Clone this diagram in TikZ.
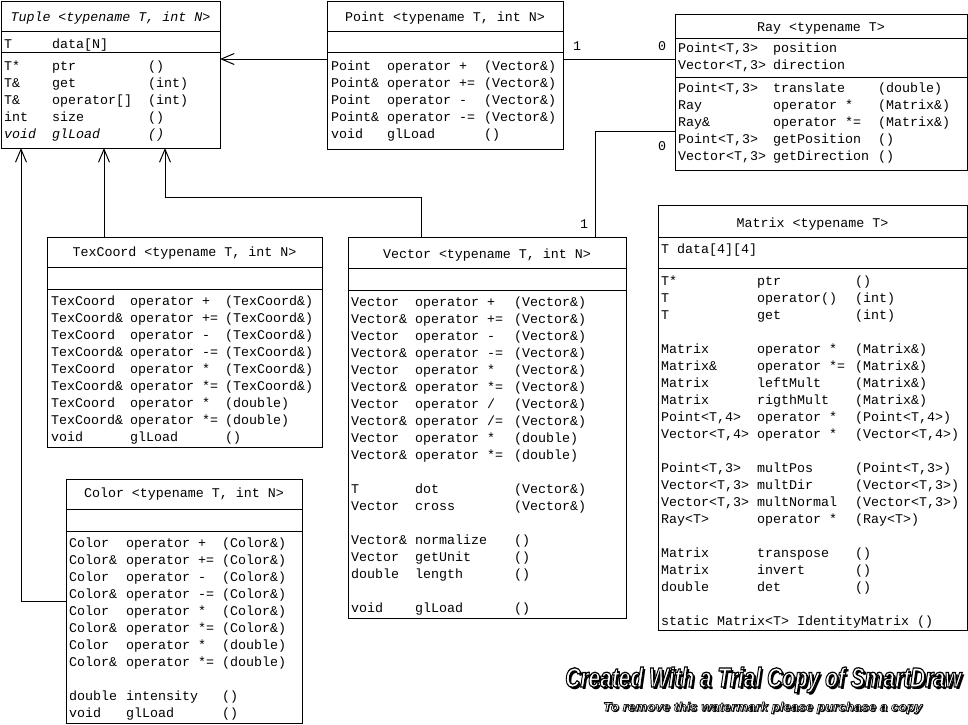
\documentclass[tikz,border=0pt]{standalone}
\usepackage{fontspec}
\usepackage{graphicx}
\usepackage{tikz}
\usetikzlibrary{arrows.meta}
\newfontfamily\umlmono{Liberation Mono}
\newfontfamily\wmsans{Liberation Sans}
\newcommand\umltext{\umlmono\fontsize{13.33}{17}\selectfont}
\newcommand\wmoutline[1]{\special{pdf:code 2 Tr 0 0 0 RG 0.45 w}#1\special{pdf:code 0 Tr}}
\newcommand\wmshadow[3]{\rlap{\kern#1\raisebox{-#2}{\color{black}#3}}\wmoutline{#3}}

\begin{document}
\begin{tikzpicture}
        [
        x=1pt, y=-1pt,
        classbox/.style={draw,line width=1pt,rectangle,anchor=north west,inner sep=0pt,outer sep=0pt},
        classtitle/.style={anchor=base,inner sep=0pt,font=\umltext},
        members/.style={anchor=base west,inner sep=0pt,font=\umltext},
        mult/.style={anchor=base,inner sep=0pt,font=\umltext},
        divider/.style={line width=1pt},
        edge/.style={->,line width=1pt,> = {Straight Barb[length=13pt,width=11pt]}},
        link/.style={line width=1pt},
        watermark/.style={anchor=base west,inner sep=0pt,text=white,font=\wmsans\bfseries\itshape}
        ]
    \useasboundingbox (0,0) rectangle (968,724);

    \node[classbox,minimum width=219pt,minimum height=147pt] (tuple) at (1,1) {};
    \draw[divider] (tuple.west |- 0,31) -- (tuple.east |- 0,31);
    \draw[divider] (tuple.west |- 0,52) -- (tuple.east |- 0,52);
    \node[classtitle] (tupletitle) at (tuple.north |- 0,21.5) {\itshape Tuple <typename T, int N>};
    \node[members] (tupleattr) at (4,48) {\begin{tabular}[t]{@{}p{48pt}@{}l@{}}
        T & data[N]
    \end{tabular}};
    \node[members] (tupleops) at (4,70.5) {\begin{tabular}[t]{@{}p{48pt}@{}p{96pt}@{}l@{}}
        T* & ptr & () \\
        T\& & get & (int) \\
        T\& & operator[] & (int) \\
        int & size & () \\
        \itshape void & \itshape glLoad & \itshape ()
    \end{tabular}};

    \node[classbox,minimum width=236pt,minimum height=148pt] (point) at (327,1) {};
    \draw[divider] (point.west |- 0,31) -- (point.east |- 0,31);
    \draw[divider] (point.west |- 0,52) -- (point.east |- 0,52);
    \node[classtitle] (pointtitle) at (point.north |- 0,21.5) {Point <typename T, int N>};
    \node[members] (pointops) at (331,70) {\begin{tabular}[t]{@{}p{56pt}@{}p{97pt}@{}l@{}}
        Point & operator + & (Vector\&) \\
        Point\& & operator += & (Vector\&) \\
        Point & operator - & (Vector\&) \\
        Point\& & operator -= & (Vector\&) \\
        void & glLoad & ()
    \end{tabular}};

    \node[classbox,minimum width=292pt,minimum height=156pt] (ray) at (675,14) {};
    \draw[divider] (ray.west |- 0,38) -- (ray.east |- 0,38);
    \draw[divider] (ray.west |- 0,77) -- (ray.east |- 0,77);
    \node[classtitle] (raytitle) at (ray.north |- 0,31) {Ray <typename T>};
    \node[members] (rayattr) at (678,52) {\begin{tabular}[t]{@{}p{95pt}@{}l@{}}
        Point<T,3> & position \\
        Vector<T,3> & direction
    \end{tabular}};
    \node[members] (rayops) at (678,92) {\begin{tabular}[t]{@{}p{95pt}@{}p{105pt}@{}l@{}}
        Point<T,3> & translate & (double) \\
        Ray & operator * & (Matrix\&) \\
        Ray\& & operator *= & (Matrix\&) \\
        Point<T,3> & getPosition & () \\
        Vector<T,3> & getDirection & ()
    \end{tabular}};

    \node[classbox,minimum width=309pt,minimum height=425pt] (matrix) at (658,205) {};
    \draw[divider] (matrix.west |- 0,237) -- (matrix.east |- 0,237);
    \draw[divider] (matrix.west |- 0,268) -- (matrix.east |- 0,268);
    \node[classtitle] (matrixtitle) at (matrix.north |- 0,227) {Matrix <typename T>};
    \node[members] (matrixattr) at (661,253) {T data[4][4]};
    \node[members] (matrixops) at (661,285) {\begin{tabular}[t]{@{}p{96pt}@{}p{98pt}@{}l@{}}
        T* & ptr & () \\
        T & operator() & (int) \\
        T & get & (int) \\
        &&\\
        Matrix & operator * & (Matrix\&) \\
        Matrix\& & operator *= & (Matrix\&) \\
        Matrix & leftMult & (Matrix\&) \\
        Matrix & rigthMult & (Matrix\&) \\
        Point<T,4> & operator * & (Point<T,4>) \\
        Vector<T,4> & operator * & (Vector<T,4>) \\
        &&\\
        Point<T,3> & multPos & (Point<T,3>) \\
        Vector<T,3> & multDir & (Vector<T,3>) \\
        Vector<T,3> & multNormal & (Vector<T,3>) \\
        Ray<T> & operator * & (Ray<T>) \\
        &&\\
        Matrix & transpose & () \\
        Matrix & invert & () \\
        double & det & () \\
        &&\\
        \multicolumn{3}{@{}l@{}}{static Matrix<T> IdentityMatrix ()}
    \end{tabular}};

    \node[classbox,minimum width=275pt,minimum height=210pt] (texcoord) at (47,237) {};
    \draw[divider] (texcoord.west |- 0,267) -- (texcoord.east |- 0,267);
    \draw[divider] (texcoord.west |- 0,289) -- (texcoord.east |- 0,289);
    \node[classtitle] (texcoordtitle) at (texcoord.north |- 0,256.5) {TexCoord <typename T, int N>};
    \node[members] (texcoordops) at (51,305) {\begin{tabular}[t]{@{}p{79pt}@{}p{95pt}@{}l@{}}
        TexCoord & operator + & (TexCoord\&) \\
        TexCoord\& & operator += & (TexCoord\&) \\
        TexCoord & operator - & (TexCoord\&) \\
        TexCoord\& & operator -= & (TexCoord\&) \\
        TexCoord & operator * & (TexCoord\&) \\
        TexCoord\& & operator *= & (TexCoord\&) \\
        TexCoord & operator * & (double) \\
        TexCoord\& & operator *= & (double) \\
        void & glLoad & ()
    \end{tabular}};

    \node[classbox,minimum width=278pt,minimum height=381pt] (vector) at (348,237) {};
    \draw[divider] (vector.west |- 0,268) -- (vector.east |- 0,268);
    \draw[divider] (vector.west |- 0,290) -- (vector.east |- 0,290);
    \node[classtitle] (vectortitle) at (vector.north |- 0,258) {Vector <typename T, int N>};
    \node[members] (vectorops) at (351,306.5) {\begin{tabular}[t]{@{}p{64pt}@{}p{99pt}@{}l@{}}
        Vector & operator + & (Vector\&) \\
        Vector\& & operator += & (Vector\&) \\
        Vector & operator - & (Vector\&) \\
        Vector\& & operator -= & (Vector\&) \\
        Vector & operator * & (Vector\&) \\
        Vector\& & operator *= & (Vector\&) \\
        Vector & operator / & (Vector\&) \\
        Vector\& & operator /= & (Vector\&) \\
        Vector & operator * & (double) \\
        Vector\& & operator *= & (double) \\
        &&\\
        T & dot & (Vector\&) \\
        Vector & cross & (Vector\&) \\
        &&\\
        Vector\& & normalize & () \\
        Vector & getUnit & () \\
        double & length & () \\
        &&\\
        void & glLoad & ()
    \end{tabular}};

    \node[classbox,minimum width=236pt,minimum height=244pt] (color) at (66,479) {};
    \draw[divider] (color.west |- 0,509) -- (color.east |- 0,509);
    \draw[divider] (color.west |- 0,531) -- (color.east |- 0,531);
    \node[classtitle] (colortitle) at (color.north |- 0,497.5) {Color <typename T, int N>};
    \node[members] (colorops) at (69,547.5) {\begin{tabular}[t]{@{}p{57pt}@{}p{96pt}@{}l@{}}
        Color & operator + & (Color\&) \\
        Color\& & operator += & (Color\&) \\
        Color & operator - & (Color\&) \\
        Color\& & operator -= & (Color\&) \\
        Color & operator * & (Color\&) \\
        Color\& & operator *= & (Color\&) \\
        Color & operator * & (double) \\
        Color\& & operator *= & (double) \\
        &&\\
        double & intensity & () \\
        void & glLoad & ()
    \end{tabular}};

    \draw[edge] (point.west |- 0,59) -- (tuple.east |- 0,59);
    \draw[edge] (104,0 |- texcoord.north) -- (104,0 |- tuple.south);
    \draw[edge] (color.west |- 0,601) -| (21,0 |- tuple.south);
    \draw[edge] (421,0 |- vector.north) |- (165,197) -- (165,0 |- tuple.south);
    \draw[link] (point.east |- 0,59) -- (ray.west |- 0,59);
    \draw[link] (595,0 |- vector.north) |- (ray.west |- 0,131);

    \node[mult] (pointend) at (577,50) {1};
    \node[mult] (rayend) at (662,50) {0};
    \node[mult] (raydirend) at (662,150) {0};
    \node[mult] (vectorend) at (584,228) {1};

    \node[watermark] (wmtitle) at (565,687) {\resizebox{396pt}{20pt}{\wmshadow{1pt}{0.75pt}{Created With a Trial Copy of SmartDraw}}};
    \node[watermark] (wmnote) at (603,711) {\resizebox{319pt}{9pt}{\wmshadow{0.8pt}{0.8pt}{To remove this watermark please purchase a copy}}};
    \end{tikzpicture}
\end{document}
